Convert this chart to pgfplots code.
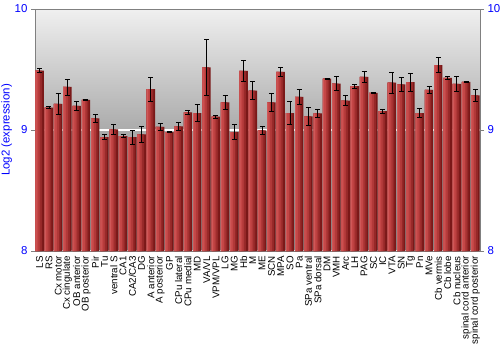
\documentclass[border=0pt]{standalone}
\usepackage{pgfplots}
\pgfplotsset{compat=1.18}
\usepackage{pgfplotstable}
\usepackage{fontspec}
\setmainfont{Liberation Sans}
\definecolor{tickblue}{HTML}{0000FF}
\definecolor{barA}{HTML}{7A1818}
\definecolor{barB}{HTML}{962828}
\definecolor{barC}{HTML}{B03838}
\definecolor{barD}{HTML}{C44646}
\definecolor{barE}{HTML}{D05858}
\definecolor{frame}{HTML}{808080}
\pgfplotstableread{
x y e
0 9.490 0.015
1 9.185 0.006
2 9.215 0.090
3 9.356 0.066
4 9.199 0.037
5 9.249 0.005
6 9.097 0.035
7 8.942 0.020
8 9.006 0.040
9 8.950 0.010
10 8.942 0.057
11 8.964 0.066
12 9.337 0.100
13 9.025 0.026
14 8.983 0.005
15 9.030 0.030
16 9.146 0.014
17 9.140 0.070
18 9.517 0.235
19 9.110 0.011
20 9.229 0.060
21 8.983 0.062
22 9.489 0.086
23 9.326 0.075
24 8.997 0.030
25 9.229 0.073
26 9.481 0.039
27 9.140 0.094
28 9.273 0.065
29 9.113 0.075
30 9.138 0.030
31 9.425 0.005
32 9.384 0.058
33 9.243 0.040
34 9.362 0.015
35 9.439 0.046
36 9.307 0.003
37 9.155 0.017
38 9.392 0.086
39 9.378 0.055
40 9.395 0.075
41 9.140 0.036
42 9.331 0.030
43 9.536 0.064
44 9.431 0.014
45 9.381 0.058
46 9.398 0.005
47 9.287 0.047
}\data
\begin{document}
\begin{tikzpicture}
\begin{axis}[
  scale only axis, width=445bp, height=242bp,
  xmin=-0.5, xmax=47.5, ymin=8, ymax=10,
  axis background/.style={shade, top color=black!6, bottom color=black!45, middle color=black!33},
  axis line style={frame},
  xtick=data,
  xticklabels={LS,RS,Cx motor,Cx cingulate,OB anterior,OB posterior,Pir,Tu,ventral S,CA1,CA2/CA3,DG,A anterior,A posterior,GP,CPu lateral,CPu medial,MD,VA/VL,VPM/VPL,LG,MG,Hb,M,ME,SCN,MPA,SO,Pa,SPa ventral,SPa dorsal,DM,VMH,Arc,LH,PAG,SC,IC,VTA,SN,Tg,Pn,MVe,Cb vermis,Cb lobe,Cb nucleus,spinal cord anterior,spinal cord posterior},
  xticklabel style={rotate=90, anchor=east, font=\fontsize{9.8}{10}\selectfont, inner sep=1bp},
  major x tick style={draw=none},
  ytick={8,9,10}, ytick pos=left,
  tick align=outside, major tick length=4bp,
  y tick style={frame},
  yticklabel style={text=tickblue, font=\fontsize{11.5}{12}\selectfont},
  /pgf/number format/assume math mode=true,
  ymajorgrids, grid style={white, line width=1.2bp},
  ylabel={Log2 (expression)},
  ylabel style={text=tickblue, font=\fontsize{11.5}{12}\selectfont},
  ylabel shift=-4bp,
]
\addplot[ybar, bar width=8.4bp, bar shift=0bp, fill=barA, draw=none] table[x=x, y=y]{\data};
\addplot[ybar, bar width=6.6bp, bar shift=-0.9bp, fill=barB, draw=none] table[x=x, y=y]{\data};
\addplot[ybar, bar width=4.8bp, bar shift=-1.8bp, fill=barC, draw=none] table[x=x, y=y]{\data};
\addplot[ybar, bar width=3.0bp, bar shift=-2.7bp, fill=barD, draw=none] table[x=x, y=y]{\data};
\addplot[ybar, bar width=1.2bp, bar shift=-3.6bp, fill=barE, draw=none] table[x=x, y=y]{\data};
\addplot[draw=none, mark=none,
  error bars/.cd, y dir=both, y explicit,
  error bar style={black, line width=0.8bp},
  error mark options={rotate=90, mark size=2.5bp, black, line width=0.8bp}]
  table[x=x, y=y, y error=e]{\data};
\end{axis}
\begin{axis}[
  scale only axis, width=445bp, height=242bp,
  xmin=-0.5, xmax=47.5, ymin=8, ymax=10,
  axis x line=none, axis y line*=right,
  axis line style={frame},
  ytick={8,9,10},
  tick align=outside, major tick length=4bp,
  y tick style={frame},
  yticklabel style={text=tickblue, font=\fontsize{11.5}{12}\selectfont},
  /pgf/number format/assume math mode=true,
]
\end{axis}
\pgfresetboundingbox
\path[use as bounding box] ([shift={(-35bp,-99bp)}]current axis.south west) rectangle ([shift={(20bp,9bp)}]current axis.north east);
\end{tikzpicture}
\end{document}
